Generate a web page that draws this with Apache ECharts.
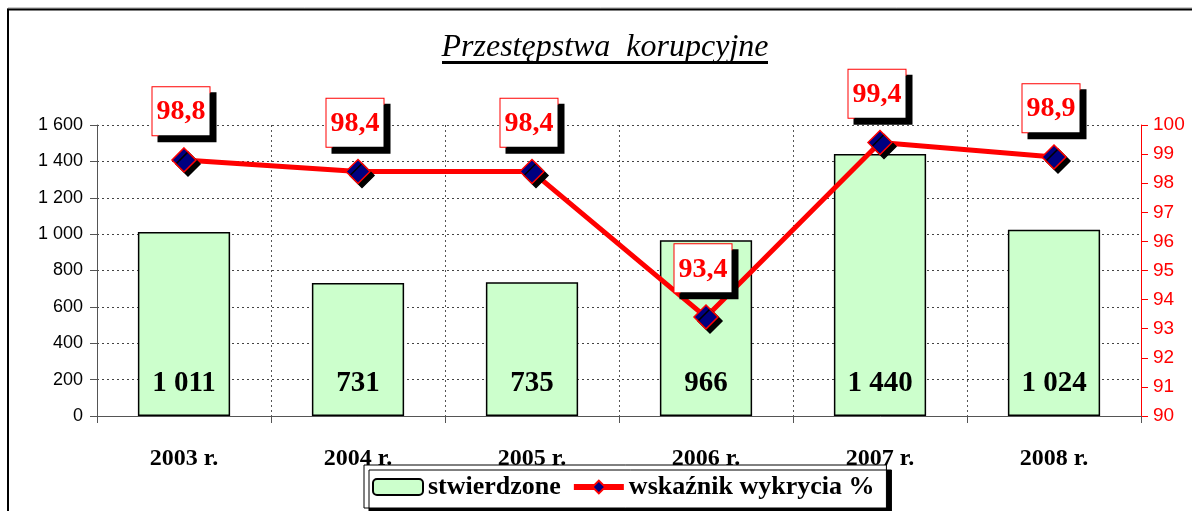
<!DOCTYPE html>
<html>
<head>
<meta charset="utf-8">
<script src="https://cdn.jsdelivr.net/npm/echarts@6/dist/echarts.min.js"></script>
<style>
  html, body { margin: 0; padding: 0; background: #fff; }
  #main { width: 1192px; height: 511px; }
</style>
</head>
<body>
<div id="main"></div>
<script>
const years = ['2003 r.', '2004 r.', '2005 r.', '2006 r.', '2007 r.', '2008 r.']
const stwierdzone = [1011, 731, 735, 966, 1440, 1024]
const wskaznik = [98.8, 98.4, 98.4, 93.4, 99.4, 98.9]

// spacja jako separator tysięcy
function fmtThousands (v) {
  return String(v).replace(/\B(?=(\d{3})+(?!\d))/g, ' ')
}

const serif = '"Liberation Serif", "DejaVu Serif", serif'
const sans = '"Liberation Sans", "DejaVu Sans", sans-serif'

const myChart = echarts.init(document.getElementById('main'), null, { renderer: 'canvas' })

const option = {
  animation: false,
  backgroundColor: '#fff',
  graphic: [
    // ramka wykresu
    { type: 'rect', shape: { x: 8, y: 8, width: 1300, height: 600 }, style: { fill: 'none', stroke: '#999', lineWidth: 1 }, z: 0 },
    { type: 'rect', shape: { x: 8, y: 9.5, width: 1300, height: 600 }, style: { fill: 'none', stroke: '#000', lineWidth: 2 }, z: 0 },
    // tytuł
    {
      type: 'text', x: 605, y: 48,
      style: { text: 'Przestępstwa  korupcyjne', fill: '#000', font: 'italic 32px ' + serif, textAlign: 'center', textVerticalAlign: 'middle' }
    },
    { type: 'rect', shape: { x: 442, y: 61, width: 326, height: 3 }, style: { fill: '#000' } }
  ],
  legend: {
    left: 364,
    top: 465,
    padding: [9, 12, 8, 8],
    itemGap: 10,
    itemWidth: 50,
    itemHeight: 16,
    backgroundColor: '#fff',
    borderColor: '#000',
    borderWidth: 1,
    shadowColor: '#000',
    shadowOffsetX: 5,
    shadowOffsetY: 5,
    shadowBlur: 0,
    textStyle: { fontFamily: serif, fontWeight: 'bold', fontSize: 26, color: '#000' },
    data: [
      { name: 'stwierdzone' },
      { name: 'wskaźnik wykrycia %', lineStyle: { width: 6 } }
    ]
  },
  grid: { left: 97, right: 51, top: 125, bottom: 95 },
  xAxis: {
    type: 'category',
    data: years,
    boundaryGap: true,
    axisLine: { lineStyle: { color: '#555', width: 1 } },
    axisTick: { show: true, length: 7, inside: false, lineStyle: { color: '#555' } },
    splitLine: { show: true, lineStyle: { color: '#555', type: [2, 3] } },
    axisLabel: { margin: 31, fontFamily: serif, fontWeight: 'bold', fontSize: 24, color: '#000' }
  },
  yAxis: [
    {
      type: 'value',
      min: 0,
      max: 1600,
      interval: 200,
      axisLine: { show: true, lineStyle: { color: '#555' } },
      axisTick: { show: true, length: 7, lineStyle: { color: '#555' } },
      splitLine: { show: true, lineStyle: { color: '#444', type: [2, 3] } },
      axisLabel: { margin: 14, fontFamily: sans, fontSize: 18, color: '#000', formatter: fmtThousands }
    },
    {
      type: 'value',
      min: 90,
      max: 100,
      interval: 1,
      position: 'right',
      axisLine: { show: true, lineStyle: { color: '#f00', width: 1 } },
      axisTick: { show: true, length: 7, lineStyle: { color: '#f00' } },
      splitLine: { show: false },
      axisLabel: { margin: 12, fontFamily: sans, fontSize: 19, color: '#f00' }
    }
  ],
  series: [
    {
      name: 'stwierdzone',
      type: 'bar',
      data: stwierdzone,
      barWidth: '53%',
      itemStyle: { color: '#CCFFCC', borderColor: '#000', borderWidth: 1.5 },
      label: {
        show: true,
        position: 'insideBottom',
        distance: 18,
        fontFamily: serif,
        fontWeight: 'bold',
        fontSize: 29,
        color: '#000',
        formatter: p => fmtThousands(p.value)
      },
      z: 2
    },
    {
      name: 'wskaźnik wykrycia %',
      type: 'line',
      yAxisIndex: 1,
      data: wskaznik,
      symbol: 'diamond',
      symbolSize: 24,
      lineStyle: { color: '#f00', width: 5 },
      itemStyle: {
        color: '#000080',
        borderColor: '#f00',
        borderWidth: 1.5,
        shadowColor: '#000',
        shadowOffsetX: 4,
        shadowOffsetY: 4,
        shadowBlur: 0
      },
      label: {
        show: true,
        position: 'top',
        distance: 12,
        offset: [-3, 0],
        fontFamily: serif,
        fontWeight: 'bold',
        fontSize: 28,
        color: '#f00',
        backgroundColor: '#fff',
        borderColor: '#f00',
        borderWidth: 1,
        padding: [11, 4, 9, 4],
        shadowColor: '#000',
        shadowOffsetX: 6,
        shadowOffsetY: 6,
        shadowBlur: 0,
        formatter: p => String(p.value).replace('.', ',')
      },
      z: 5
    }
  ]
}

myChart.setOption(option)
</script>
</body>
</html>
